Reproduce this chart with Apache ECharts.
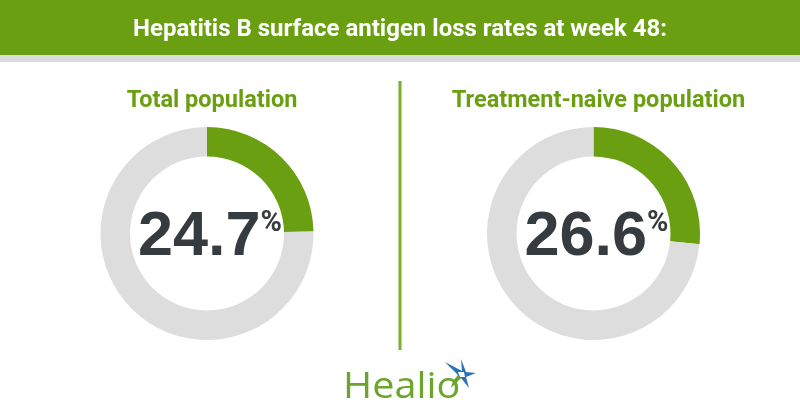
<!DOCTYPE html>
<html>
<head>
<meta charset="utf-8">
<script src="https://cdn.jsdelivr.net/npm/echarts@6/dist/echarts.min.js"></script>
<style>html,body{margin:0;padding:0;background:#fff}#c{width:800px;height:420px}</style>
</head>
<body>
<div id="c"></div>
<script>
const headerTitle = 'Hepatitis B surface antigen loss rates at week 48:';
const panelNames = ['Total population', 'Treatment-naive population'];
const lossRates = [24.7, 26.6];
const brandName = 'Healio';

const GREEN = '#6a9f12';
const GRAY = '#dddddd';
const DARK = '#363b3f';
const centersX = [207, 593.5];
const centerY = 233.5;

const chart = echarts.init(document.getElementById('c'), null, {renderer: 'canvas'});

const titles = panelNames.map((n, i) => ({
  text: n, left: centersX[i], top: 84, textAlign: 'center',
  textStyle: {color: GREEN, fontSize: 23.5, fontWeight: 'bold', fontFamily: 'Roboto, sans-serif'}
}));

const series = lossRates.map((r, i) => ({
  type: 'pie',
  center: [centersX[i], centerY],
  radius: [77, 106.5],
  startAngle: 90,
  clockwise: true,
  silent: true,
  animation: false,
  avoidLabelOverlap: false,
  labelLine: {show: false},
  data: [
    {value: r, itemStyle: {color: GREEN},
     label: {show: true, position: 'center', offset: [3, 4],
       formatter: () => '{n|' + r.toFixed(1) + '}{p|%}',
       rich: {
         n: {fontSize: 63, fontWeight: 'bold', color: DARK, fontFamily: '"Liberation Sans", Arial, sans-serif'},
         p: {fontSize: 29, fontWeight: 'bold', color: DARK, fontFamily: 'Roboto, sans-serif', verticalAlign: 'top', padding: [3, 0, 0, 0]}
       }}},
    {value: +(100 - r).toFixed(1), itemStyle: {color: GRAY}, label: {show: false}}
  ]
}));

chart.setOption({
  backgroundColor: '#fff',
  title: titles,
  graphic: [
    {type: 'rect', shape: {x: 0, y: 0, width: 800, height: 55}, style: {fill: GREEN}, z: -1},
    {type: 'rect', shape: {x: 0, y: 55, width: 800, height: 7}, style: {fill: '#dcdcdc'}, z: -1},
    {type: 'text', x: 400, y: 30, style: {text: headerTitle, fill: '#fff', font: 'bold 24px Roboto, sans-serif', textAlign: 'center', textVerticalAlign: 'middle'}},
    {type: 'rect', shape: {x: 398.5, y: 81, width: 3, height: 269}, style: {fill: '#79b02c'}},
    {type: 'text', x: 343, y: 406, scaleX: 1.1, style: {text: brandName, fill: '#6ca52c', font: '36px "Open Sans", Roboto, sans-serif', textVerticalAlign: 'bottom'}},
    {type: 'polygon', shape: {points: [[445,362],[462,371],[461,359],[466,372],[476,373],[466,377],[469,388],[461,378],[451,387],[458,375]]}, style: {fill: '#2a72b8'}},
    {type: 'polygon', shape: {points: [[458,375],[461,378],[451,388],[453,381]]}, style: {fill: '#6ca52c'}},
    {type: 'polygon', shape: {points: [[458,372],[464,372],[465,377],[460,377]]}, style: {fill: '#ffffff'}}
  ],
  series: series
});
</script>
</body>
</html>
